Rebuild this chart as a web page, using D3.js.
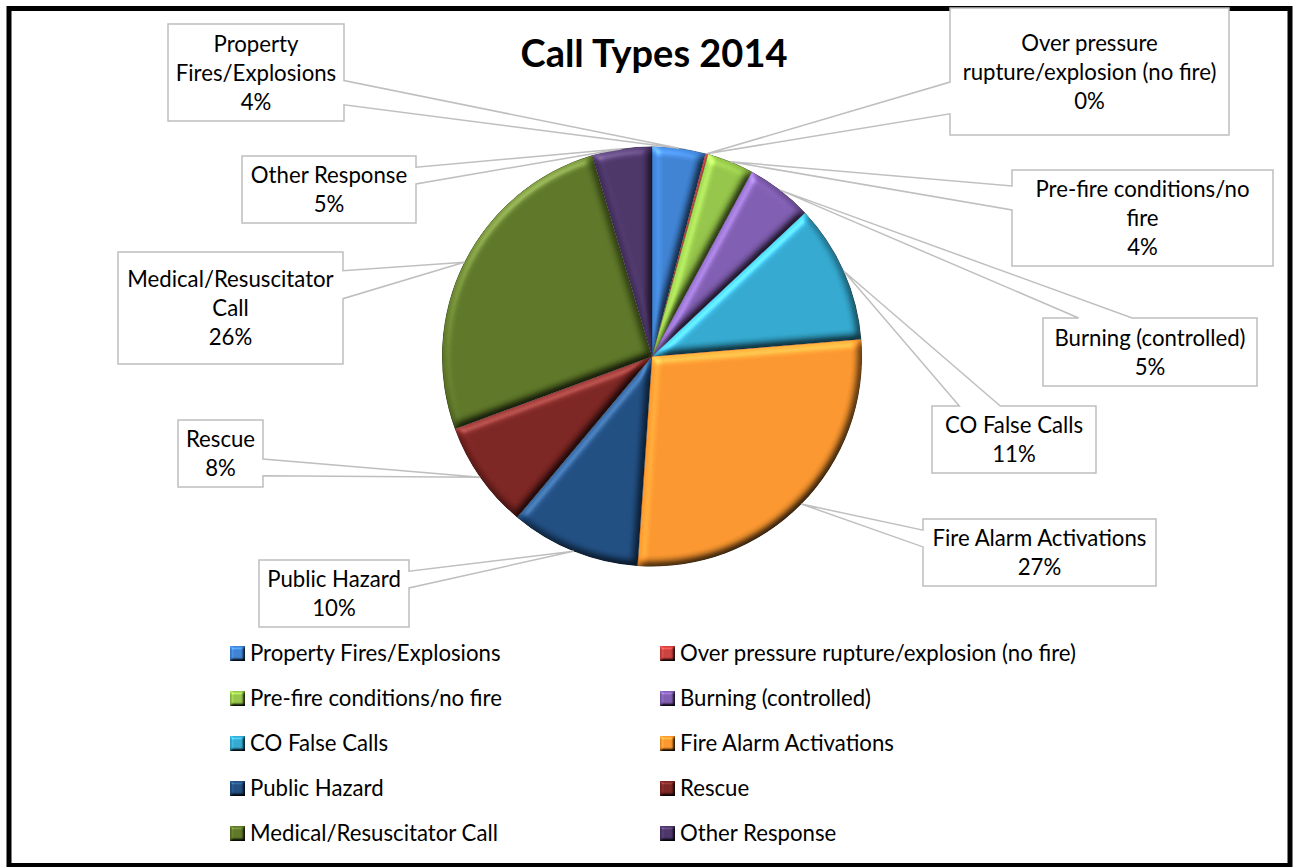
<!DOCTYPE html>
<html>
<head>
<meta charset="utf-8">
<script src="https://cdn.jsdelivr.net/npm/d3@7"></script>
<style>
  html, body { margin: 0; padding: 0; background: #fff; }
  svg { display: block; }
  text { font-family: Lato, "Open Sans", "DejaVu Sans", sans-serif; fill: #000; }
</style>
</head>
<body>
<svg id="chart" width="1293" height="867"></svg>
<script>
// Call types, in pie order (clockwise from 12 o'clock)
const categories = [
  "Property Fires/Explosions",
  "Over pressure rupture/explosion (no fire)",
  "Pre-fire conditions/no fire",
  "Burning (controlled)",
  "CO False Calls",
  "Fire Alarm Activations",
  "Public Hazard",
  "Rescue",
  "Medical/Resuscitator Call",
  "Other Response"
];
// Number of calls per type, 2014
const calls = [41, 2, 36, 51, 107, 274, 100, 83, 260, 46];

const sliceColors = [
  "#3d80d0", "#c8403d", "#92c247", "#7d5bae", "#32a6cc",
  "#f7942d", "#1f4c7f", "#7a2421", "#5b7426", "#4a3466"
];

// Wrapped category text shown in each callout
const calloutLines = [
  ["Property", "Fires/Explosions"],
  ["Over pressure", "rupture/explosion (no fire)"],
  ["Pre-fire conditions/no", "fire"],
  ["Burning (controlled)"],
  ["CO False Calls"],
  ["Fire Alarm Activations"],
  ["Public Hazard"],
  ["Rescue"],
  ["Medical/Resuscitator", "Call"],
  ["Other Response"]
];
// Callout boxes: [left, top, right, bottom]
const calloutBoxes = [
  [168, 24, 344, 121],
  [950, 8, 1229, 135],
  [1012, 170, 1273, 266],
  [1043, 318, 1257, 386],
  [932, 406, 1096, 473],
  [923, 519, 1156, 586],
  [259, 560, 409, 627],
  [178, 420, 263, 487],
  [118, 252, 343, 364],
  [242, 156, 416, 223]
];

const W = 1293, H = 867;
const cx = 652, cy = 356.5, R = 210;
const FONT = 22.2, LINE = 29;

const svg = d3.select("#chart");
const defs = svg.append("defs");

// Bevel lighting used on slices and legend keys
function bevelFilter(id, blur, scale) {
  const f = defs.append("filter").attr("id", id)
    .attr("x", "-10%").attr("y", "-10%").attr("width", "120%").attr("height", "120%")
    .attr("color-interpolation-filters", "sRGB");
  f.append("feGaussianBlur").attr("in", "SourceAlpha").attr("stdDeviation", blur).attr("result", "b");
  const dl = f.append("feDiffuseLighting").attr("in", "b").attr("surfaceScale", scale)
    .attr("diffuseConstant", 1).attr("lighting-color", "#fff").attr("result", "d");
  dl.append("feDistantLight").attr("azimuth", 235).attr("elevation", 55);
  f.append("feComposite").attr("in", "SourceGraphic").attr("in2", "d")
    .attr("operator", "arithmetic").attr("k1", 1.22).attr("k2", 0).attr("k3", 0).attr("k4", 0)
    .attr("result", "lit");
  // soft specular sheen along the lit edges
  const sl = f.append("feSpecularLighting").attr("in", "b").attr("surfaceScale", scale)
    .attr("specularConstant", 0.5).attr("specularExponent", 20)
    .attr("lighting-color", "#fff").attr("result", "s");
  sl.append("feDistantLight").attr("azimuth", 235).attr("elevation", 35);
  f.append("feComposite").attr("in", "lit").attr("in2", "s")
    .attr("operator", "arithmetic").attr("k1", 0).attr("k2", 1).attr("k3", 0.35).attr("k4", 0)
    .attr("result", "sheen");
  f.append("feComposite").attr("in", "sheen").attr("in2", "SourceAlpha").attr("operator", "in");
}
bevelFilter("bevel", 4, 5);
bevelFilter("bevelKey", 1.6, 3);

// Frame
svg.append("rect").attr("width", W).attr("height", H).attr("fill", "#fff");
svg.append("rect")
  .attr("x", 9).attr("y", 8.5).attr("width", 1281).attr("height", 857)
  .attr("fill", "none").attr("stroke", "#000").attr("stroke-width", 5);

// Title
svg.append("text")
  .attr("x", 654).attr("y", 67)
  .attr("text-anchor", "middle")
  .style("font-weight", "bold").style("font-size", "38px")
  .text("Call Types 2014");

// Pie
const total = d3.sum(calls);
const pieData = d3.pie().sort(null).value(d => d)(calls);
const arc = d3.arc().innerRadius(0).outerRadius(R);
const rimArc = d3.arc().innerRadius(R).outerRadius(R);

const pieG = svg.append("g").attr("transform", `translate(${cx},${cy})`);
pieG.selectAll("path.slice")
  .data(pieData)
  .join("path")
  .attr("class", "slice")
  .attr("d", arc)
  .attr("fill", (d, i) => sliceColors[i])
  .attr("stroke", "rgba(0,0,0,0.35)")
  .attr("stroke-width", 0.8)
  .attr("filter", "url(#bevel)");

// Callouts with wedge pointers to the slice rims
function wedgeRectCallout(box, tip) {
  const [l, t, r, b] = box;
  const w = r - l, h = b - t;
  const hc = l + w / 2, vc = t + h / 2;
  const [xp, yp] = tip;
  const dx = xp - hc, dy = yp - vc;
  const dz = Math.abs(dy) - Math.abs(dx * h / w);
  const x1 = l + w * (dx > 0 ? 7 : 2) / 12, x2 = l + w * (dx > 0 ? 10 : 5) / 12;
  const y1 = t + h * (dy > 0 ? 7 : 2) / 12, y2 = t + h * (dy > 0 ? 10 : 5) / 12;
  const xl = dz > 0 ? l : (dx > 0 ? l : xp);
  const yl = dz > 0 ? y1 : (dx > 0 ? y1 : yp);
  const xt = dz > 0 ? (dy > 0 ? x1 : xp) : x1;
  const yt = dz > 0 ? (dy > 0 ? t : yp) : t;
  const xr = dz > 0 ? r : (dx > 0 ? xp : r);
  const yr = dz > 0 ? y1 : (dx > 0 ? yp : y1);
  const xb = dz > 0 ? (dy > 0 ? xp : x1) : x1;
  const yb = dz > 0 ? (dy > 0 ? yp : b) : b;
  const p = d3.path();
  p.moveTo(l, t); p.lineTo(x1, t); p.lineTo(xt, yt); p.lineTo(x2, t); p.lineTo(r, t);
  p.lineTo(r, y1); p.lineTo(xr, yr); p.lineTo(r, y2); p.lineTo(r, b);
  p.lineTo(x2, b); p.lineTo(xb, yb); p.lineTo(x1, b); p.lineTo(l, b);
  p.lineTo(l, y2); p.lineTo(xl, yl); p.lineTo(l, y1); p.closePath();
  return p.toString();
}

const pct = v => Math.round(v / total * 100) + "%";

const callG = svg.append("g");
pieData.forEach((d, i) => {
  const c = rimArc.centroid(d);
  const tip = [cx + c[0], cy + c[1]];
  const box = calloutBoxes[i];
  const g = callG.append("g");
  g.append("path")
    .attr("d", wedgeRectCallout(box, tip))
    .attr("fill", "#fff")
    .attr("stroke", "#bfbfbf")
    .attr("stroke-width", 1.5)
    .attr("stroke-linejoin", "miter");
  const lines = calloutLines[i].concat([pct(d.value)]);
  const hc = (box[0] + box[2]) / 2, vc = (box[1] + box[3]) / 2;
  lines.forEach((ln, k) => {
    g.append("text")
      .attr("x", hc)
      .attr("y", vc + (k - (lines.length - 1) / 2) * LINE + 8)
      .attr("text-anchor", "middle")
      .style("font-size", FONT + "px")
      .text(ln);
  });
});

// Legend: two columns, row-major
const legendX = [230, 660], legendY0 = 653, legendStep = 45, keySize = 15;
const legG = svg.append("g");
categories.forEach((name, i) => {
  const col = i % 2, row = Math.floor(i / 2);
  const x = legendX[col], y = legendY0 + row * legendStep;
  legG.append("rect")
    .attr("x", x).attr("y", y - 7).attr("width", keySize).attr("height", keySize)
    .attr("fill", sliceColors[i])
    .attr("filter", "url(#bevelKey)");
  legG.append("text")
    .attr("x", x + keySize + 5).attr("y", y + 7.5)
    .style("font-size", FONT + "px")
    .text(name);
});
</script>
</body>
</html>
